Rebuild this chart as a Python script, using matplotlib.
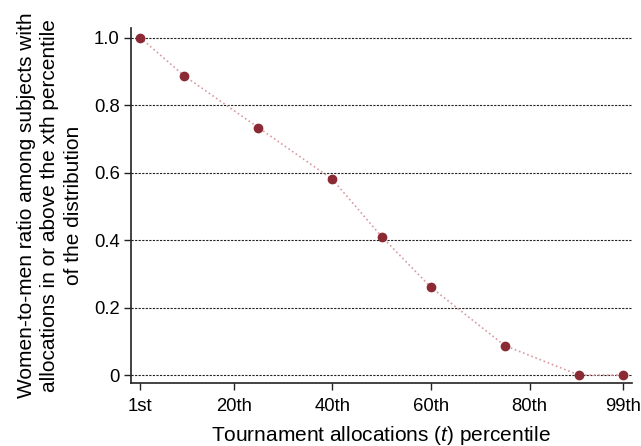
import matplotlib
matplotlib.use("Agg")
import matplotlib.pyplot as plt

plt.rcParams['font.family'] = ['Liberation Sans', 'DejaVu Sans']
plt.rcParams['mathtext.fontset'] = 'custom'
plt.rcParams['mathtext.rm'] = 'Liberation Sans'
plt.rcParams['mathtext.it'] = 'Liberation Sans:italic'

# data
percentile = [1, 10, 25, 40, 50, 60, 75, 90, 99]
ratio = [1.0, 0.886, 0.733, 0.580, 0.410, 0.260, 0.087, 0.0, 0.0]
xticks = [1, 20, 40, 60, 80, 99]
xticklabels = ['1st', '20th', '40th', '60th', '80th', '99th']
yticks = [0, 0.2, 0.4, 0.6, 0.8, 1.0]
yticklabels = ['0', '0.2', '0.4', '0.6', '0.8', '1.0']

fig = plt.figure(figsize=(6.41, 4.46), dpi=100)
ax = fig.add_axes([0.204, 0.141, 0.782, 0.796])

for y in yticks:
    ax.axhline(y, color='#222222', lw=0.8, ls=(0, (2, 1.2)), zorder=1)

ax.plot(percentile, ratio, ls=':', color='#d99aa3', lw=1.2, zorder=2)
ax.plot(percentile, ratio, ls='none', marker='o', ms=6, color='#8b2a35', zorder=3)

ax.set_xlim(-0.9, 100.8)
ax.set_ylim(-0.024, 1.028)
ax.set_xticks(xticks)
ax.set_xticklabels(xticklabels, fontsize=13.3)
ax.set_yticks(yticks)
ax.set_yticklabels(yticklabels, fontsize=13.3)
ax.tick_params(direction='out', length=5, width=1, colors='#222222', labelcolor='black')
ax.tick_params(axis='x', pad=6)
ax.tick_params(axis='y', pad=3)

for s in ['top', 'right']:
    ax.spines[s].set_visible(False)
for s in ['left', 'bottom']:
    ax.spines[s].set_linewidth(1.2)
    ax.spines[s].set_color('#222222')

ax.set_xlabel('Tournament allocations ($t$) percentile', fontsize=15, labelpad=6)
ax.set_ylabel('Women-to-men ratio among subjects with\nallocations in or above the xth percentile\nof the distribution',
              fontsize=15, labelpad=8, linespacing=1.3)

plt.savefig('out.png', dpi=100)
